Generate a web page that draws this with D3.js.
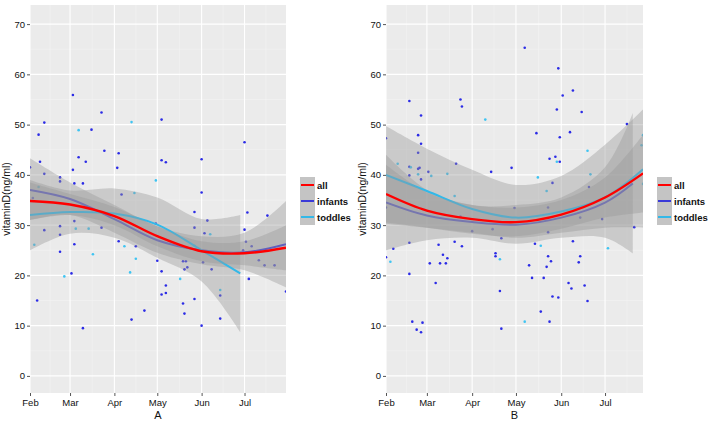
<!DOCTYPE html>
<html>
<head>
<meta charset="utf-8">
<script src="https://cdn.jsdelivr.net/npm/d3@7"></script>
<style>
  body { margin: 0; background: #fff; }
  svg text { font-family: "Liberation Sans", Arial, sans-serif; }
</style>
</head>
<body>
<div id="chart"></div>
<script>
// axis ticks
const monthTicks = ["2015-02-01", "2015-03-01", "2015-04-01", "2015-05-01", "2015-06-01", "2015-07-01"];
const monthLabels = ["Feb", "Mar", "Apr", "May", "Jun", "Jul"];
const yTicks = [0, 10, 20, 30, 40, 50, 60, 70];
const seriesNames = ["all", "infants", "toddles"];

// panel A smooth fits (knots)
const knotDatesA = ["02-01", "03-01", "04-01", "05-01", "06-01", "07-01", "07-30"];
const allFitA = [34.8, 34.1, 31.8, 27.8, 24.8, 24.4, 25.5];
const allLoA = [31.0, 32.0, 30.0, 25.8, 22.8, 22.0, 21.0];
const allHiA = [38.5, 36.2, 33.6, 29.8, 26.8, 26.8, 30.0];
const infFitA = [37.0, 35.2, 31.2, 27.0, 25.0, 24.6, 26.2];
const infLoA = [31.0, 32.0, 28.5, 24.5, 22.2, 21.0, 17.6];
const infHiA = [43.3, 38.5, 34.0, 29.8, 27.8, 28.5, 34.8];
const todDatesA = ["02-01", "03-01", "04-01", "05-01", "06-01", "06-28"];
const todFitA = [32.0, 32.6, 32.3, 30.1, 25.0, 20.4];
const todLoA = [25.0, 28.3, 27.5, 23.5, 18.8, 8.7];
const todHiA = [39.0, 36.9, 37.3, 35.5, 31.2, 32.0];

// panel B smooth fits
const knotDatesB = ["02-01", "03-01", "04-01", "05-01", "06-01", "07-01", "07-27"];
const allFitB = [36.2, 32.9, 31.2, 30.6, 32.1, 35.5, 40.3];
const allLoB = [30.5, 29.5, 28.3, 27.8, 29.3, 31.5, 32.5];
const allHiB = [42.0, 36.5, 34.0, 33.5, 35.0, 39.5, 48.0];
const infDatesB = ["02-01", "03-01", "04-01", "05-01", "06-01", "07-01", "07-20"];
const infFitB = [34.5, 31.9, 30.6, 30.1, 31.5, 34.5, 38.3];
const infLoB = [25.0, 27.0, 27.5, 26.3, 27.5, 27.5, 24.4];
const infHiB = [44.0, 37.0, 34.0, 34.0, 35.5, 41.5, 52.3];
const todFitB = [40.0, 36.8, 33.2, 31.5, 32.7, 35.5, 41.1];
const todLoB = [30.3, 29.5, 28.5, 27.5, 28.5, 29.5, 29.5];
const todHiB = [49.7, 45.2, 41.0, 38.0, 39.8, 46.0, 53.0];

// observations: [date, vitaminD, group] i = infants, t = toddles
const pointsA = [
  ["02-01", 41.5, "i"], ["02-07", 48.0, "i"], ["02-11", 50.4, "i"], ["02-08", 42.6, "i"], ["02-11", 40.2, "i"],
  ["02-22", 39.5, "i"], ["02-22", 38.7, "i"], ["03-03", 55.9, "i"], ["03-07", 48.9, "t"], ["03-16", 49.0, "i"],
  ["03-07", 43.5, "i"], ["03-03", 41.0, "i"], ["03-04", 38.3, "i"], ["03-12", 42.6, "i"], ["03-10", 38.3, "i"],
  ["03-23", 52.4, "i"], ["03-25", 44.8, "i"], ["04-04", 44.3, "i"], ["04-03", 41.4, "i"], ["04-13", 50.5, "t"],
  ["04-06", 36.1, "i"], ["04-15", 36.4, "t"], ["05-04", 51.0, "i"], ["05-04", 42.9, "i"], ["05-07", 42.5, "i"],
  ["04-30", 38.9, "t"], ["06-01", 43.1, "i"], ["06-01", 36.5, "i"], ["07-01", 46.5, "i"], ["02-07", 37.6, "t"],
  ["02-03", 35.4, "i"], ["02-06", 15.0, "i"], ["02-11", 29.0, "i"], ["02-04", 26.1, "t"], ["02-22", 29.8, "i"],
  ["02-22", 28.1, "i"], ["02-22", 24.7, "i"], ["02-25", 19.8, "t"], ["03-02", 20.4, "i"], ["03-04", 26.2, "i"],
  ["03-04", 30.8, "i"], ["03-05", 29.3, "t"], ["03-10", 9.5, "i"], ["03-14", 29.3, "t"], ["03-17", 24.2, "t"],
  ["03-23", 29.5, "i"], ["04-04", 26.8, "i"], ["04-08", 25.8, "t"], ["04-12", 20.6, "t"], ["04-13", 11.2, "i"],
  ["04-16", 25.8, "i"], ["04-16", 23.3, "t"], ["04-22", 13.0, "i"], ["04-30", 30.3, "i"], ["05-01", 22.9, "i"],
  ["05-04", 20.8, "i"], ["05-04", 16.2, "i"], ["05-07", 18.0, "i"], ["05-07", 16.5, "i"], ["05-17", 19.3, "t"],
  ["05-19", 22.8, "i"], ["05-21", 22.8, "i"], ["05-19", 14.4, "i"], ["05-20", 12.4, "i"], ["05-20", 21.2, "i"],
  ["05-22", 21.6, "i"], ["05-27", 32.6, "i"], ["05-27", 29.5, "i"], ["05-27", 25.9, "t"], ["05-27", 15.3, "i"],
  ["06-01", 10.0, "i"], ["06-03", 28.4, "i"], ["06-05", 30.9, "i"], ["06-07", 28.2, "t"], ["06-08", 21.2, "i"],
  ["06-14", 17.1, "t"], ["06-14", 16.0, "i"], ["06-14", 11.4, "i"], ["06-02", 22.6, "i"], ["07-01", 29.1, "i"],
  ["07-03", 32.5, "i"], ["07-02", 26.7, "i"], ["06-30", 25.0, "i"], ["07-04", 19.3, "i"], ["07-06", 25.8, "i"],
  ["07-11", 23.0, "i"], ["07-17", 31.9, "i"], ["07-15", 22.0, "i"], ["07-22", 22.0, "i"], ["07-30", 16.8, "i"]
];
const pointsB = [
  ["02-01", 47.3, "i"], ["02-17", 54.7, "i"], ["02-09", 42.2, "t"], ["02-17", 41.6, "i"], ["02-18", 41.5, "t"],
  ["02-17", 39.9, "i"], ["02-23", 47.9, "i"], ["02-25", 46.2, "i"], ["02-23", 44.4, "i"], ["02-25", 51.8, "i"],
  ["02-23", 41.2, "i"], ["02-24", 41.4, "i"], ["02-23", 40.1, "t"], ["02-25", 39.1, "i"], ["03-02", 40.6, "i"],
  ["03-04", 39.8, "t"], ["03-15", 40.2, "t"], ["03-21", 42.2, "i"], ["03-20", 35.8, "t"], ["03-24", 55.0, "i"],
  ["03-25", 53.6, "i"], ["04-10", 51.0, "t"], ["04-14", 40.6, "i"], ["04-28", 41.4, "i"], ["05-07", 65.3, "i"],
  ["05-15", 48.3, "i"], ["05-16", 39.5, "t"], ["05-29", 53.0, "i"], ["05-30", 61.2, "i"], ["05-31", 47.5, "i"],
  ["06-02", 55.8, "i"], ["06-07", 48.5, "i"], ["06-09", 56.8, "i"], ["06-15", 52.5, "i"], ["05-24", 43.2, "i"],
  ["05-28", 43.6, "i"], ["05-29", 42.6, "t"], ["05-31", 42.6, "i"], ["05-26", 38.4, "i"], ["05-22", 36.8, "t"],
  ["06-19", 44.8, "t"], ["06-21", 40.1, "t"], ["06-20", 37.6, "i"], ["07-16", 50.1, "i"], ["07-27", 47.9, "t"],
  ["07-26", 45.9, "t"], ["07-27", 38.2, "t"],
  ["02-01", 23.6, "i"], ["02-04", 22.7, "t"], ["02-06", 25.3, "i"], ["02-01", 33.5, "i"], ["02-17", 26.5, "i"],
  ["02-17", 20.3, "i"], ["02-19", 10.8, "i"], ["02-22", 9.2, "i"], ["02-25", 8.7, "i"], ["02-26", 10.6, "i"],
  ["03-03", 22.4, "i"], ["03-07", 18.5, "i"], ["03-09", 26.1, "i"], ["03-10", 22.4, "i"], ["03-12", 24.1, "i"],
  ["03-14", 22.4, "i"], ["03-15", 23.4, "i"], ["03-20", 26.7, "i"], ["03-25", 25.8, "i"], ["03-24", 31.7, "i"],
  ["04-01", 28.8, "i"], ["04-15", 29.2, "i"], ["04-17", 24.4, "i"], ["04-17", 23.8, "i"], ["04-20", 23.2, "t"],
  ["04-20", 16.9, "i"], ["04-21", 9.4, "i"], ["04-21", 27.4, "i"], ["04-30", 33.4, "i"], ["05-07", 10.8, "t"],
  ["05-10", 22.0, "i"], ["05-12", 19.5, "i"], ["05-14", 26.3, "i"], ["05-18", 25.9, "t"], ["05-18", 12.8, "i"],
  ["05-20", 19.5, "i"], ["05-22", 21.7, "i"], ["05-23", 23.8, "i"], ["05-25", 22.8, "i"], ["05-24", 10.8, "i"],
  ["05-26", 15.8, "i"], ["05-30", 15.6, "i"], ["05-23", 33.5, "i"], ["05-23", 28.6, "i"], ["06-06", 18.5, "i"],
  ["06-08", 17.4, "i"], ["06-09", 26.8, "i"], ["06-13", 22.6, "i"], ["06-14", 23.8, "i"], ["06-17", 18.0, "i"],
  ["06-19", 14.9, "i"], ["06-14", 31.5, "i"], ["07-03", 25.4, "t"], ["07-21", 29.6, "i"], ["06-29", 31.2, "i"]
];

const parse = d3.timeParse("%Y-%m-%d");
const md = s => parse("2015-" + s);

const colors = { all: "#ff0000", infants: "#3a3ad8", toddles: "#33b8e8" };
const pointColors = { i: "#2b2be6", t: "#3fc4f2" };

const W = 709, H = 422;
const svg = d3.select("#chart").append("svg")
  .attr("width", W).attr("height", H);

function drawPanel(cfg) {
  const x = d3.scaleTime().domain([md("02-01"), md(cfg.end)]).range([cfg.left, cfg.right]);
  const y = d3.scaleLinear().domain([-3.4, 73.8]).range([393, 5]);
  const g = svg.append("g");

  g.append("rect")
    .attr("x", cfg.left).attr("y", 5)
    .attr("width", cfg.right - cfg.left).attr("height", 388)
    .attr("fill", "#ebebeb");

  // minor grid
  const minorY = d3.range(5, 75, 10);
  g.selectAll("line.minY").data(minorY).join("line")
    .attr("x1", cfg.left).attr("x2", cfg.right)
    .attr("y1", d => y(d)).attr("y2", d => y(d))
    .attr("stroke", "#f4f4f4").attr("stroke-width", 0.6);
  const majors = monthTicks.map(parse);
  const minorX = majors.map((d, i) => i < majors.length - 1
    ? new Date((+d + +majors[i + 1]) / 2) : new Date(+d + 15 * 864e5))
    .filter(d => x(d) < cfg.right);
  g.selectAll("line.minX").data(minorX).join("line")
    .attr("x1", d => x(d)).attr("x2", d => x(d))
    .attr("y1", 5).attr("y2", 393)
    .attr("stroke", "#f4f4f4").attr("stroke-width", 0.6);

  // major grid
  g.selectAll("line.majY").data(yTicks).join("line")
    .attr("x1", cfg.left).attr("x2", cfg.right)
    .attr("y1", d => y(d)).attr("y2", d => y(d))
    .attr("stroke", "#fff").attr("stroke-width", 1.1);
  g.selectAll("line.majX").data(majors).join("line")
    .attr("x1", d => x(d)).attr("x2", d => x(d))
    .attr("y1", 5).attr("y2", 393)
    .attr("stroke", "#fff").attr("stroke-width", 1.1);

  // axes
  const yAxis = d3.axisLeft(y).tickValues(yTicks).tickSize(3).tickPadding(2);
  const ya = g.append("g").attr("transform", `translate(${cfg.left},0)`).call(yAxis);
  const xAxis = d3.axisBottom(x).tickValues(majors).tickSize(3).tickPadding(3)
    .tickFormat((d, i) => monthLabels[i]);
  const xa = g.append("g").attr("transform", "translate(0,393)").call(xAxis);
  [ya, xa].forEach(a => {
    a.select(".domain").remove();
    a.selectAll(".tick line").attr("stroke", "#555");
    a.selectAll(".tick text").attr("fill", "#111").style("font-size", "9.5px");
  });

  g.append("text")
    .attr("x", (cfg.left + cfg.right) / 2).attr("y", 419)
    .attr("text-anchor", "middle").style("font-size", "11px").attr("fill", "#111")
    .text(cfg.label);
  g.append("text")
    .attr("transform", `translate(${cfg.left - 20},199) rotate(-90)`)
    .attr("text-anchor", "middle").style("font-size", "10.5px").attr("fill", "#111")
    .text("vitaminD(ng/ml)");

  // points
  const clip = "clip" + cfg.label;
  svg.append("clipPath").attr("id", clip).append("rect")
    .attr("x", cfg.left).attr("y", 5).attr("width", cfg.right - cfg.left).attr("height", 388);
  const inner = g.append("g").attr("clip-path", `url(#${clip})`);
  inner.selectAll("circle").data(cfg.points).join("circle")
    .attr("cx", d => x(md(d[0]))).attr("cy", d => y(d[1]))
    .attr("r", 1.3).attr("fill", d => pointColors[d[2]]);

  // smooths: ribbon then line, per series
  cfg.smooths.forEach(s => {
    const rows = s.dates.map((d, i) => ({ t: md(d), fit: s.fit[i], lo: s.lo[i], hi: s.hi[i] }));
    const area = d3.area().x(d => x(d.t)).y0(d => y(d.lo)).y1(d => y(d.hi)).curve(d3.curveCatmullRom);
    const line = d3.line().x(d => x(d.t)).y(d => y(d.fit)).curve(d3.curveCatmullRom);
    inner.append("path").attr("d", area(rows)).attr("fill", "#999").attr("fill-opacity", 0.4);
    inner.append("path").attr("d", line(rows)).attr("fill", "none")
      .attr("stroke", colors[s.name]).attr("stroke-width", s.name === "all" ? 2.4 : 2);
  });

  // legend
  const lg = g.append("g").attr("transform", `translate(${cfg.right + 14},177)`);
  seriesNames.forEach((n, i) => {
    lg.append("rect").attr("x", 0).attr("y", i * 16).attr("width", 15).attr("height", 16)
      .attr("fill", "#c4c4c4");
    lg.append("line").attr("x1", 1).attr("x2", 14)
      .attr("y1", i * 16 + 8).attr("y2", i * 16 + 8)
      .attr("stroke", colors[n]).attr("stroke-width", 2);
    lg.append("text").attr("x", 17).attr("y", i * 16 + 11.5)
      .style("font-size", "9.5px").style("font-weight", "bold").attr("fill", "#111").text(n);
  });
}

drawPanel({
  label: "A", left: 30, right: 286, end: "07-30", points: pointsA,
  smooths: [
    { name: "infants", dates: knotDatesA, fit: infFitA, lo: infLoA, hi: infHiA },
    { name: "toddles", dates: todDatesA, fit: todFitA, lo: todLoA, hi: todHiA },
    { name: "all", dates: knotDatesA, fit: allFitA, lo: allLoA, hi: allHiA }
  ]
});
drawPanel({
  label: "B", left: 386, right: 643, end: "07-27", points: pointsB,
  smooths: [
    { name: "infants", dates: infDatesB, fit: infFitB, lo: infLoB, hi: infHiB },
    { name: "toddles", dates: knotDatesB, fit: todFitB, lo: todLoB, hi: todHiB },
    { name: "all", dates: knotDatesB, fit: allFitB, lo: allLoB, hi: allHiB }
  ]
});
</script>
</body>
</html>
